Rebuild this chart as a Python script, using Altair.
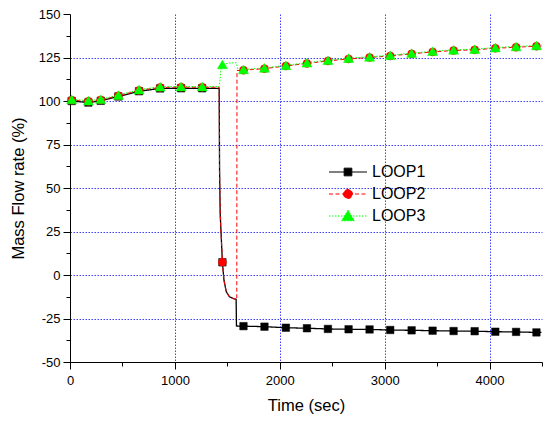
import altair as alt
import pandas as pd

# ---------------- data ----------------
loops = ["LOOP1", "LOOP2", "LOOP3"]

# marker times (s), shared by the three loops
marker_t = [16, 175, 293, 461, 658, 859, 1059, 1260, 1453, 1654, 1854, 2058,
            2259, 2459, 2656, 2856, 3053, 3257, 3457, 3657, 3858, 4055, 4253, 4447]

loop1_mark = [100.0, 99.1, 100.1, 102.6, 105.6, 107.2, 107.3, 107.3, 7.3, -29.4,
              -29.7, -30.3, -30.6, -31.0, -31.2, -31.3, -31.6, -31.8, -32.0, -32.2,
              -32.3, -32.6, -32.7, -33.0]
loop2_mark = [100.5, 99.8, 100.6, 103.0, 106.1, 107.8, 107.9, 107.9, 7.3, 117.7,
              118.6, 120.1, 121.6, 123.0, 124.2, 125.0, 125.9, 127.1, 128.2, 129.0,
              129.4, 130.3, 130.9, 131.5]
loop3_mark = [100.9, 100.2, 101.0, 103.4, 106.5, 108.2, 108.3, 108.3, 121.0, 118.1,
              119.0, 120.5, 122.0, 123.4, 124.6, 125.4, 126.3, 127.5, 128.6, 129.4,
              129.8, 130.7, 131.3, 131.9]

# continuous traces (extra points around the transient)
loop1_t = [0, 16, 175, 293, 461, 658, 859, 1059, 1260, 1422, 1426, 1432, 1453, 1468,
           1490, 1520, 1560, 1584, 1587, 1654, 1854, 2058, 2259, 2459, 2656, 2856,
           3053, 3257, 3457, 3657, 3858, 4055, 4253, 4447, 4495]
loop1_v = [100.0, 100.0, 99.1, 100.1, 102.6, 105.6, 107.2, 107.3, 107.3, 107.3, 60.0,
           35.0, 7.3, -3.0, -9.6, -12.5, -13.6, -14.0, -29.3, -29.4, -29.7, -30.3,
           -30.6, -31.0, -31.2, -31.3, -31.6, -31.8, -32.0, -32.2, -32.3, -32.6,
           -32.7, -33.0, -33.0]

loop2_t = [0, 16, 175, 293, 461, 658, 859, 1059, 1260, 1422, 1426, 1432, 1453, 1468,
           1490, 1520, 1560, 1584, 1590, 1592, 1654, 1854, 2058, 2259, 2459, 2656,
           2856, 3053, 3257, 3457, 3657, 3858, 4055, 4253, 4447, 4495]
loop2_v = [100.3, 100.5, 99.8, 100.6, 103.0, 106.1, 107.8, 107.9, 107.9, 107.9, 60.0,
           35.0, 7.3, -3.0, -9.6, -12.5, -13.6, -14.0, -14.0, 117.5, 117.7, 118.6,
           120.1, 121.6, 123.0, 124.2, 125.0, 125.9, 127.1, 128.2, 129.0, 129.4,
           130.3, 130.9, 131.5, 131.6]

loop3_t = [0, 16, 175, 293, 461, 658, 859, 1059, 1260, 1422, 1430, 1440, 1453, 1520,
           1585, 1600, 1654, 1854, 2058, 2259, 2459, 2656, 2856, 3053, 3257, 3457,
           3657, 3858, 4055, 4253, 4447, 4495]
loop3_v = [100.7, 100.9, 100.2, 101.0, 103.4, 106.5, 108.2, 108.3, 108.3, 108.3, 112.0,
           119.0, 121.0, 121.8, 122.0, 118.3, 118.1, 119.0, 120.5, 122.0, 123.4,
           124.6, 125.4, 126.3, 127.5, 128.6, 129.4, 129.8, 130.7, 131.3, 131.9, 132.0]

colors = ["#000000", "#ff0000", "#00ff00"]
dashes = [[1, 0], [4, 2.5], [1.5, 1.5]]
marker_shapes = ["square", "circle", "triangle-up"]
# legend glyphs: short line with the marker in its middle
legend_glyphs = [
    "M-6.6,0H1M-3.57,-0.77H-2.03V0.77H-3.57Z",
    "M-6.6,0H1M-3.7,0A0.9,0.9 0 1,0 -1.9,0A0.9,0.9 0 1,0 -3.7,0Z",
    "M-6.6,0H1M-2.8,-1.15L-1.52,0.95L-4.08,0.95Z",
]

# ---------------- chart ----------------
FONT = "Liberation Sans"
GRID = "#4040ff"
GRID_DASH = [1.5, 1.5]

x_vals = [i * 500 for i in range(10)]
y_vals = [-50 + 12.5 * i for i in range(17)]

x_axis = alt.Axis(
    values=x_vals,
    labelExpr="datum.value % 1000 === 0 ? '' + datum.value : ''",
    labelOverlap=False, labelFlush=False,
    tickSize={"condition": {"test": "datum.value % 1000 === 0", "value": 7}, "value": 4},
    grid=True, gridColor=GRID, gridDash=GRID_DASH, gridWidth=1,
    gridOpacity={"condition": {"test": "datum.value % 1000 === 0 && datum.value > 0 && datum.value < 4500",
                               "value": 1}, "value": 0},
    title="Time (sec)", titleFont=FONT, titleFontSize=16.5, titleFontWeight="normal",
    titleColor="#000", titlePadding=10,
    labelFont=FONT, labelFontSize=13, labelColor="#000", labelPadding=5,
    domainColor="#000", tickColor="#000",
)
y_axis = alt.Axis(
    values=y_vals,
    labelExpr="datum.value % 25 === 0 ? '' + datum.value : ''",
    labelOverlap=False, labelFlush=False,
    tickSize={"condition": {"test": "datum.value % 25 === 0", "value": 7}, "value": 4},
    grid=True, gridColor=GRID, gridDash=GRID_DASH, gridWidth=1,
    gridOpacity={"condition": {"test": "datum.value % 25 === 0 && datum.value > -50 && datum.value < 150",
                               "value": 1}, "value": 0},
    title="Mass Flow rate (%)", titleFont=FONT, titleFontSize=16.5, titleFontWeight="normal",
    titleColor="#000", titlePadding=12,
    labelFont=FONT, labelFontSize=13, labelColor="#000", labelPadding=3,
    domainColor="#000", tickColor="#000",
)

X = alt.X("t:Q", scale=alt.Scale(domain=[0, 4500], nice=False, zero=False), axis=x_axis)
Y = alt.Y("v:Q", scale=alt.Scale(domain=[-50, 150], nice=False, zero=False), axis=y_axis)

traces = [(loop1_t, loop1_v), (loop2_t, loop2_v), (loop3_t, loop3_v)]
marks = [loop1_mark, loop2_mark, loop3_mark]
sizes = [56, 64, 100]
widths = [1.3, 1.0, 1.0]

layers = []
for i, name in enumerate(loops):
    line_df = pd.DataFrame({"t": traces[i][0], "v": traces[i][1], "loop": name})
    mark_df = pd.DataFrame({"t": marker_t, "v": marks[i], "loop": name})
    layers.append(
        alt.Chart(line_df).mark_line(color=colors[i], strokeWidth=widths[i],
                                     strokeDash=dashes[i]).encode(x=X, y=Y)
    )
    layers.append(
        alt.Chart(mark_df).mark_point(shape=marker_shapes[i], filled=True, fill=colors[i],
                                      stroke=colors[i], strokeWidth=0.5, opacity=1,
                                      size=sizes[i]).encode(x=X, y=Y)
    )

# legend layer (empty after filter, only carries the legend)
leg = alt.Legend(orient="none", legendX=284, legendY=150, title=None,
                 labelFont=FONT, labelFontSize=16, labelColor="#000",
                 symbolSize=100, symbolStrokeWidth=1, labelOffset=2,
                 rowPadding=6, padding=0)
legend_df = pd.DataFrame({"t": marker_t[:3], "v": loop1_mark[:3], "loop": loops})
legend_layer = alt.Chart(legend_df).transform_filter("false").mark_point(
    filled=True, opacity=1, strokeWidth=1
).encode(
    x=X, y=Y,
    fill=alt.Fill("loop:N", scale=alt.Scale(domain=loops, range=colors), legend=leg),
    stroke=alt.Stroke("loop:N", scale=alt.Scale(domain=loops, range=colors), legend=leg),
    shape=alt.Shape("loop:N", scale=alt.Scale(domain=loops, range=legend_glyphs), legend=leg),
    strokeDash=alt.StrokeDash("loop:N", scale=alt.Scale(domain=loops, range=dashes), legend=leg),
)
layers.append(legend_layer)

chart = alt.layer(*layers).properties(
    width=472, height=348,
    padding={"left": 70, "top": 14, "right": 1, "bottom": 59},
    autosize=alt.AutoSizeParams(type="none"),
    background="white",
).configure_view(stroke=None)

chart.save("out.html", embed_options={"renderer": "svg", "actions": False})
